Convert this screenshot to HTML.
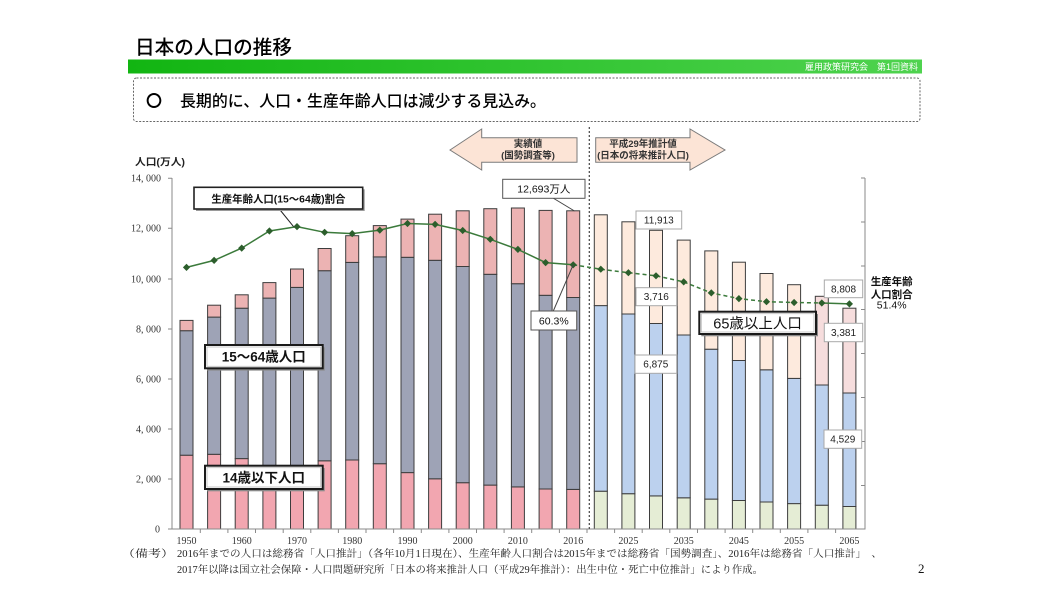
<!DOCTYPE html>
<html><head><meta charset="utf-8"><style>
html,body{margin:0;padding:0;background:#fff;}
svg{display:block;}
.s{font-family:"Liberation Sans","Noto Sans CJK JP",sans-serif;}
.m{font-family:"Liberation Serif","Noto Serif CJK SC",serif;}
</style></head><body>
<svg width="1050" height="600" viewBox="0 0 1050 600" xmlns="http://www.w3.org/2000/svg">
<defs>
<linearGradient id="gb" x1="0" y1="0" x2="1" y2="0"><stop offset="0" stop-color="#12b512"/><stop offset="1" stop-color="#4fd34f"/></linearGradient>
<path id="dm" d="M0,-3.6 L3.6,0 L0,3.6 L-3.6,0 Z" fill="#2c5e2c"/>
</defs>
<rect width="1050" height="600" fill="#fff"/>
<!-- header -->
<text x="135" y="54" class="s" font-size="19.5" font-weight="500" fill="#000" textLength="157" lengthAdjust="spacingAndGlyphs">日本の人口の推移</text>
<rect x="128" y="59.5" width="794" height="14" fill="url(#gb)"/>
<text x="918" y="70" class="s" font-size="9" fill="#fff" text-anchor="end">雇用政策研究会　第1回資料</text>
<rect x="133.5" y="78" width="786.5" height="43.5" rx="3" fill="none" stroke="#666" stroke-width="1" stroke-dasharray="2,1.5"/>
<text x="146" y="106.5" font-family="'Noto Sans CJK JP',sans-serif" font-size="16" font-weight="bold" fill="#000">〇</text>
<text x="180" y="106.5" class="s" font-size="16" font-weight="500" fill="#000" textLength="366" lengthAdjust="spacingAndGlyphs">長期的に、人口・生産年齢人口は減少する見込み。</text>

<!-- bars -->
<g stroke="#3d3d3d" stroke-width="1">
<g fill="#f2a6b0">
<rect x="180" y="455.2" width="13" height="73.8"/>
<rect x="207.6" y="454.3" width="13" height="74.7"/>
<rect x="235.2" y="458.6" width="13" height="70.4"/>
<rect x="262.9" y="465.9" width="13" height="63.1"/>
<rect x="290.5" y="466.8" width="13" height="62.2"/>
<rect x="318.1" y="460.8" width="13" height="68.2"/>
<rect x="345.7" y="460.0" width="13" height="69.0"/>
<rect x="373.3" y="463.7" width="13" height="65.3"/>
<rect x="401.0" y="472.6" width="13" height="56.4"/>
<rect x="428.6" y="478.8" width="13" height="50.2"/>
<rect x="456.2" y="482.7" width="13" height="46.3"/>
<rect x="483.8" y="485.1" width="13" height="43.9"/>
<rect x="511.4" y="486.9" width="13" height="42.1"/>
<rect x="539.1" y="489.0" width="13" height="40.0"/>
<rect x="566.7" y="489.4" width="13" height="39.6"/>
</g>
<g fill="#9ea3b6">
<rect x="180" y="330.7" width="13" height="124.5"/>
<rect x="207.6" y="317.1" width="13" height="137.2"/>
<rect x="235.2" y="308.2" width="13" height="150.4"/>
<rect x="262.9" y="298.1" width="13" height="167.8"/>
<rect x="290.5" y="287.4" width="13" height="179.4"/>
<rect x="318.1" y="270.7" width="13" height="190.1"/>
<rect x="345.7" y="262.4" width="13" height="197.6"/>
<rect x="373.3" y="256.9" width="13" height="206.8"/>
<rect x="401.0" y="257.3" width="13" height="215.3"/>
<rect x="428.6" y="260.3" width="13" height="218.5"/>
<rect x="456.2" y="266.5" width="13" height="216.2"/>
<rect x="483.8" y="274.3" width="13" height="210.8"/>
<rect x="511.4" y="283.7" width="13" height="203.2"/>
<rect x="539.1" y="295.3" width="13" height="193.7"/>
<rect x="566.7" y="297.5" width="13" height="191.9"/>
</g>
<g fill="#ecb3b3">
<rect x="180" y="320.4" width="13" height="10.3"/>
<rect x="207.6" y="305.2" width="13" height="11.9"/>
<rect x="235.2" y="294.8" width="13" height="13.4"/>
<rect x="262.9" y="282.6" width="13" height="15.5"/>
<rect x="290.5" y="269.0" width="13" height="18.4"/>
<rect x="318.1" y="248.5" width="13" height="22.2"/>
<rect x="345.7" y="235.7" width="13" height="26.7"/>
<rect x="373.3" y="225.6" width="13" height="31.3"/>
<rect x="401.0" y="219.1" width="13" height="38.2"/>
<rect x="428.6" y="214.2" width="13" height="46.1"/>
<rect x="456.2" y="210.8" width="13" height="55.7"/>
<rect x="483.8" y="208.7" width="13" height="65.6"/>
<rect x="511.4" y="208.0" width="13" height="75.7"/>
<rect x="539.1" y="210.4" width="13" height="84.9"/>
<rect x="566.7" y="210.8" width="13" height="86.7"/>
</g>
<g fill="#e5edd5">
<rect x="594.3" y="491.2" width="13" height="37.8"/>
<rect x="621.9" y="493.7" width="13" height="35.3"/>
<rect x="649.5" y="495.9" width="13" height="33.1"/>
<rect x="677.2" y="497.8" width="13" height="31.2"/>
<rect x="704.8" y="499.1" width="13" height="29.9"/>
<rect x="732.4" y="500.5" width="13" height="28.5"/>
<rect x="760.0" y="502.0" width="13" height="27.0"/>
<rect x="787.6" y="503.6" width="13" height="25.4"/>
<rect x="815.3" y="505.2" width="13" height="23.8"/>
<rect x="842.9" y="506.5" width="13" height="22.5"/>
</g>
<g fill="#bcd1ee">
<rect x="594.3" y="305.6" width="13" height="185.6"/>
<rect x="621.9" y="314.0" width="13" height="179.7"/>
<rect x="649.5" y="323.5" width="13" height="172.4"/>
<rect x="677.2" y="335.0" width="13" height="162.8"/>
<rect x="704.8" y="349.2" width="13" height="149.9"/>
<rect x="732.4" y="360.5" width="13" height="140.0"/>
<rect x="760.0" y="369.8" width="13" height="132.2"/>
<rect x="787.6" y="378.4" width="13" height="125.2"/>
<rect x="815.3" y="385.0" width="13" height="120.2"/>
<rect x="842.9" y="393.0" width="13" height="113.5"/>
</g>
<g fill="#fdeadd">
<rect x="594.3" y="214.8" width="13" height="90.8"/>
<rect x="621.9" y="221.8" width="13" height="92.2"/>
<rect x="649.5" y="230.3" width="13" height="93.2"/>
<rect x="677.2" y="240.1" width="13" height="94.9"/>
<rect x="704.8" y="250.9" width="13" height="98.3"/>
<rect x="732.4" y="262.2" width="13" height="98.3"/>
<rect x="760.0" y="273.5" width="13" height="96.3"/>
<rect x="787.6" y="284.7" width="13" height="93.7"/>
</g>
<g fill="#f6dddd">
<rect x="815.3" y="296.3" width="13" height="88.7"/>
<rect x="842.9" y="308.2" width="13" height="84.8"/>
</g>
</g>

<!-- axes -->
<g stroke="#8a8a8a" stroke-width="1" fill="none">
<line x1="172" y1="178" x2="172" y2="529"/>
<line x1="172" y1="529" x2="865" y2="529"/>
<line x1="865" y1="178" x2="865" y2="529.5"/>
<path d="M168,178.3H172M168,228.3H172M168,279H172M168,329H172M168,379H172M168,429H172M168,479H172M168,529H172"/>
<path d="M861,178H865M861,222H865M861,266H865M861,309.5H865M861,353.5H865M861,397.5H865M861,441.5H865M861,485.5H865"/>
<path d="M200.3,529V533M227.9,529V533M255.5,529V533M283.2,529V533M310.8,529V533M338.4,529V533M366,529V533M393.6,529V533M421.3,529V533M448.9,529V533M476.5,529V533M504.1,529V533M531.7,529V533M559.4,529V533M587,529V533M614.6,529V533M642.2,529V533M669.8,529V533M697.5,529V533M725.1,529V533M752.7,529V533M780.3,529V533M807.9,529V533M835.6,529V533"/>
</g>
<!-- y labels -->
<g class="m" font-size="10" fill="#333" text-anchor="end">
<text x="161" y="181.5">14, 000</text>
<text x="161" y="231.5">12, 000</text>
<text x="161" y="282.3">10, 000</text>
<text x="161" y="332.3">8, 000</text>
<text x="161" y="382.3">6, 000</text>
<text x="161" y="432.3">4, 000</text>
<text x="161" y="482.3">2, 000</text>
<text x="160" y="532.3">0</text>
</g>
<!-- x labels -->
<g class="m" font-size="10" fill="#333" text-anchor="middle">
<text x="186.5" y="544">1950</text>
<text x="241.7" y="544">1960</text>
<text x="297.0" y="544">1970</text>
<text x="352.2" y="544">1980</text>
<text x="407.5" y="544">1990</text>
<text x="462.7" y="544">2000</text>
<text x="517.9" y="544">2010</text>
<text x="573.2" y="544">2016</text>
<text x="628.4" y="544">2025</text>
<text x="683.7" y="544">2035</text>
<text x="738.9" y="544">2045</text>
<text x="794.1" y="544">2055</text>
<text x="849.4" y="544">2065</text>
</g>
<text x="135" y="165.5" class="s" font-size="10" font-weight="bold" fill="#222" textLength="50" lengthAdjust="spacingAndGlyphs">人口(万人)</text>

<!-- divider -->
<line x1="589.3" y1="127" x2="589.3" y2="529" stroke="#444" stroke-width="1.2" stroke-dasharray="2,2"/>

<!-- arrows -->
<polygon points="450,150 481.7,129 481.7,137.7 577,137.7 577,162.3 481.7,162.3 481.7,170" fill="#fce4d6" stroke="#7a7a7a" stroke-width="1"/>
<polygon points="595.7,137.7 690,137.7 690,129 725,150 690,170 690,162.3 595.7,162.3" fill="#fce4d6" stroke="#7a7a7a" stroke-width="1"/>
<g class="s" font-size="9.5" font-weight="bold" fill="#333" text-anchor="middle">
<text x="528" y="147">実績値</text>
<text x="528" y="158.5">(国勢調査等)</text>
<text x="643" y="147">平成29年推計値</text>
<text x="643" y="158.5">(日本の将来推計人口)</text>
</g>

<!-- ratio line -->
<polyline fill="none" stroke="#3b7a3b" stroke-width="1.5" points="186.5,267.4 214.1,260.4 241.7,248.1 269.4,231.0 297.0,226.6 324.6,232.3 352.2,233.6 379.8,230.1 407.5,223.5 435.1,224.4 462.7,230.5 490.3,239.3 517.9,249.4 545.6,262.6 573.2,264.8"/>
<polyline fill="none" stroke="#3b7a3b" stroke-width="1.5" stroke-dasharray="4,3" points="573.2,264.8 600.8,269.2 628.4,272.7 656.0,275.8 683.7,281.9 711.3,292.9 738.9,298.6 766.5,301.7 794.1,302.5 821.8,303.0"/>
<polyline fill="none" stroke="#3b7a3b" stroke-width="1.5" points="821.8,303.0 849.4,303.9"/>
<g>
<use href="#dm" x="186.5" y="267.4"/><use href="#dm" x="214.1" y="260.4"/><use href="#dm" x="241.7" y="248.1"/><use href="#dm" x="269.4" y="231.0"/><use href="#dm" x="297.0" y="226.6"/><use href="#dm" x="324.6" y="232.3"/><use href="#dm" x="352.2" y="233.6"/><use href="#dm" x="379.8" y="230.1"/><use href="#dm" x="407.5" y="223.5"/><use href="#dm" x="435.1" y="224.4"/><use href="#dm" x="462.7" y="230.5"/><use href="#dm" x="490.3" y="239.3"/><use href="#dm" x="517.9" y="249.4"/><use href="#dm" x="545.6" y="262.6"/><use href="#dm" x="573.2" y="264.8"/>
<use href="#dm" x="600.8" y="269.2"/><use href="#dm" x="628.4" y="272.7"/><use href="#dm" x="656.0" y="275.8"/><use href="#dm" x="683.7" y="281.9"/><use href="#dm" x="711.3" y="292.9"/><use href="#dm" x="738.9" y="298.6"/><use href="#dm" x="766.5" y="301.7"/><use href="#dm" x="794.1" y="302.5"/><use href="#dm" x="821.8" y="303.0"/><use href="#dm" x="849.4" y="303.9"/>
</g>

<!-- annotation boxes -->
<line x1="279.3" y1="209" x2="293.5" y2="226.6" stroke="#222" stroke-width="1"/>
<rect x="196" y="189.3" width="168.7" height="21.7" fill="#9a9a9a"/>
<rect x="194" y="187.3" width="168.7" height="21.7" fill="#fff" stroke="#222" stroke-width="1.6"/>
<text x="278.4" y="202.3" class="s" font-size="10.5" font-weight="bold" fill="#111" text-anchor="middle" textLength="134" lengthAdjust="spacingAndGlyphs">生産年齢人口(15～64歳)割合</text>

<line x1="553" y1="198" x2="574.5" y2="211" stroke="#444" stroke-width="1"/>
<rect x="502.7" y="179.3" width="82.3" height="19" fill="#fff" stroke="#555" stroke-width="1"/>
<text x="543.8" y="192.5" class="s" font-size="10.5" fill="#111" text-anchor="middle">12,693万人</text>

<line x1="553.3" y1="311" x2="573.2" y2="264.8" stroke="#444" stroke-width="1"/>
<rect x="531" y="311" width="45.7" height="19" fill="#fff" stroke="#555" stroke-width="1"/>
<text x="553.8" y="324.5" class="s" font-size="10.5" fill="#111" text-anchor="middle">60.3%</text>

<rect x="207" y="347.3" width="117.7" height="23.3" fill="#8a8a8a"/>
<rect x="205" y="345" width="117.7" height="23.3" fill="#fff" stroke="#1a1a1a" stroke-width="2"/>
<rect x="207" y="347" width="113.7" height="19.3" fill="none" stroke="#bbb" stroke-width="0.8"/>
<text x="263.8" y="361.5" class="s" font-size="13.5" font-weight="bold" fill="#111" text-anchor="middle">15～64歳人口</text>

<rect x="207" y="468" width="117.7" height="23.3" fill="#8a8a8a"/>
<rect x="205" y="465.7" width="117.7" height="23.3" fill="#fff" stroke="#1a1a1a" stroke-width="2"/>
<rect x="207" y="467.7" width="113.7" height="19.3" fill="none" stroke="#bbb" stroke-width="0.8"/>
<text x="263.8" y="482.3" class="s" font-size="13.5" font-weight="bold" fill="#111" text-anchor="middle">14歳以下人口</text>

<rect x="701.3" y="314" width="116.7" height="22.3" fill="#8a8a8a"/>
<rect x="699.3" y="311.7" width="116.7" height="22.3" fill="#fff" stroke="#1a1a1a" stroke-width="2"/>
<rect x="701.3" y="313.7" width="112.7" height="18.3" fill="none" stroke="#bbb" stroke-width="0.8"/>
<text x="757.6" y="328.3" class="s" font-size="14.5" fill="#111" text-anchor="middle">65歳以上人口</text>

<g fill="#fff" stroke="#a8a8a8" stroke-width="1">
<rect x="636" y="211" width="45.7" height="18"/>
<rect x="636" y="287.7" width="40.7" height="18"/>
<rect x="635" y="355" width="41.7" height="18.3"/>
<rect x="824.3" y="280" width="38.4" height="17.7"/>
<rect x="824.3" y="323.3" width="38.4" height="18.4"/>
<rect x="824" y="430" width="37.7" height="18.3"/>
</g>
<g class="s" font-size="10" fill="#222" text-anchor="middle">
<text x="658.8" y="223.5">11,913</text>
<text x="656.3" y="300.2">3,716</text>
<text x="655.8" y="367.7">6,875</text>
<text x="843.5" y="292.4">8,808</text>
<text x="843.5" y="336">3,381</text>
<text x="842.8" y="442.7">4,529</text>
</g>

<!-- right label -->
<g class="s" font-size="10.5" fill="#111" text-anchor="middle">
<text x="891.7" y="285" font-weight="bold" textLength="42" lengthAdjust="spacingAndGlyphs">生産年齢</text>
<text x="891.7" y="298" font-weight="bold" textLength="42" lengthAdjust="spacingAndGlyphs">人口割合</text>
<text x="891.7" y="308.7">51.4%</text>
</g>

<!-- footnote -->
<g class="m" font-size="10.3" fill="#222">
<text x="122" y="557" textLength="52" lengthAdjust="spacingAndGlyphs">（備考）</text>
<text x="177" y="557" textLength="705" lengthAdjust="spacingAndGlyphs">2016年までの人口は総務省「人口推計」（各年10月1日現在）、生産年齢人口割合は2015年までは総務省「国勢調査」、2016年は総務省「人口推計」　、</text>
<text x="177" y="573" textLength="586" lengthAdjust="spacingAndGlyphs">2017年以降は国立社会保障・人口問題研究所「日本の将来推計人口（平成29年推計）：出生中位・死亡中位推計」により作成。</text>
</g>
<text x="918" y="573" class="m" font-size="13" fill="#111">2</text>
</svg>
</body></html>
